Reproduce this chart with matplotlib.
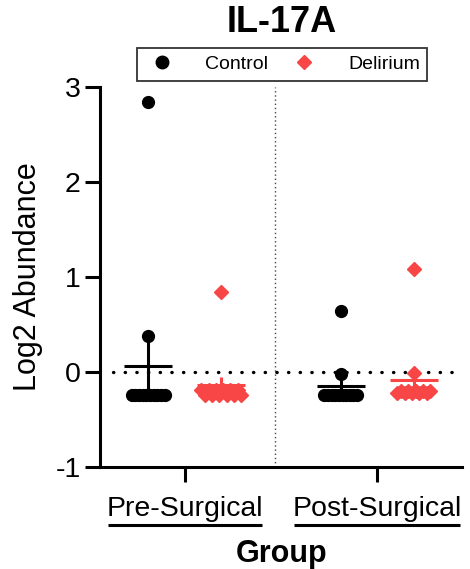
import numpy as np
import matplotlib
matplotlib.use("Agg")
import matplotlib.pyplot as plt
from matplotlib.lines import Line2D

plt.rcParams['font.family'] = ['Liberation Sans', 'DejaVu Sans']

# values (Log2 abundance)
groups = ['Pre-Surgical', 'Post-Surgical']
series = ['Control', 'Delirium']
pre_control = [2.84, 0.38] + [-0.24] * 10
pre_delirium = [0.84] + [-0.19, -0.24] * 6
post_control = [0.64, -0.02] + [-0.24] * 10
post_delirium = [1.08, -0.01] + [-0.22, -0.20] * 5

data = {
    ('Pre-Surgical', 'Control'): pre_control,
    ('Pre-Surgical', 'Delirium'): pre_delirium,
    ('Post-Surgical', 'Control'): post_control,
    ('Post-Surgical', 'Delirium'): post_delirium,
}

colors = {'Control': 'black', 'Delirium': '#F84646'}
markers = {'Control': 'o', 'Delirium': 'D'}
msizes = {'Control': 8.5, 'Delirium': 7.0}
offsets = {'Control': -0.19, 'Delirium': 0.19}


def swarm(vals, step=0.019, tol=0.09):
    """spread nearly equal values side by side, like a Prism scatter"""
    vals = np.asarray(vals, dtype=float)
    xs = np.zeros(len(vals))
    used = np.zeros(len(vals), dtype=bool)
    for i in range(len(vals)):
        if used[i]:
            continue
        idx = [j for j in range(len(vals)) if not used[j] and abs(vals[j] - vals[i]) < tol]
        for j in idx:
            used[j] = True
        k = len(idx)
        xs[idx] = (np.arange(k) - (k - 1) / 2) * step
    return xs


fig = plt.figure(figsize=(4.70, 5.69), dpi=100)
ax = fig.add_axes([100 / 470, 1 - 467 / 569, 362 / 470, 380 / 569])

lw = 2.2
for gi, g in enumerate(groups):
    for s in series:
        vals = np.array(data[(g, s)])
        xc = gi + offsets[s]
        ax.plot(xc + swarm(vals), vals, ls='none', marker=markers[s],
                ms=msizes[s], color=colors[s], mec=colors[s], clip_on=False, zorder=3)
        m = vals.mean()
        sem = vals.std(ddof=1) / np.sqrt(len(vals))
        ax.plot([xc, xc], [m - sem, m + sem], color=colors[s], lw=lw, zorder=4,
                solid_capstyle='butt')
        ax.plot([xc - 0.125, xc + 0.125], [m, m], color=colors[s], lw=lw, zorder=4,
                solid_capstyle='butt')

# zero reference line and group separator
ax.axhline(0, color='black', lw=2.4, ls=(0, (0.1, 3.4)), dash_capstyle='round',
           xmin=0.035, zorder=2)
ax.axvline(0.47, color='#444444', lw=1.0, ls=(0, (1, 2)), zorder=1)

ax.set_xlim(-0.44, 1.44)
ax.set_ylim(-1, 3)
ax.set_yticks([-1, 0, 1, 2, 3])
ax.set_yticklabels(['-1', '0', '1', '2', '3'])
ax.set_xticks([0, 1])
ax.set_xticklabels(groups)

for side in ['top', 'right']:
    ax.spines[side].set_visible(False)
for side in ['left', 'bottom']:
    ax.spines[side].set_linewidth(lw)
ax.tick_params(axis='both', width=lw, length=11, labelsize=20.5, color='black')
ax.tick_params(axis='y', pad=3)
ax.tick_params(axis='x', pad=10)

# underline each group label
for gi, half in zip([0, 1], [0.40, 0.43]):
    ax.plot([gi - half, gi + half], [-0.153, -0.153], color='black', lw=lw,
            transform=ax.get_xaxis_transform(), clip_on=False, solid_capstyle='butt')

ax.set_ylabel('Log2 Abundance', fontsize=22, labelpad=8.5)
fig.text(282 / 470, 1 - 562 / 569, 'Group', fontsize=22, fontweight='bold',
         ha='center', va='baseline')
fig.text(282 / 470, 1 - 23 / 569, 'IL-17A', fontsize=26, fontweight='bold',
         ha='center', va='center')

handles = [Line2D([], [], ls='none', marker=markers[s], ms=msizes[s] + 0.5,
                  color=colors[s]) for s in series]
leg = fig.legend(handles, series, loc='center', bbox_to_anchor=(282 / 470, 1 - 64.5 / 569),
                 ncol=2, fontsize=14, handlelength=1.8, handletextpad=1.35,
                 columnspacing=0.95, borderpad=0.38, fancybox=False, frameon=True,
                 edgecolor='black')
leg.get_frame().set_linewidth(1.3)

fig.savefig('out.png', dpi=100)
